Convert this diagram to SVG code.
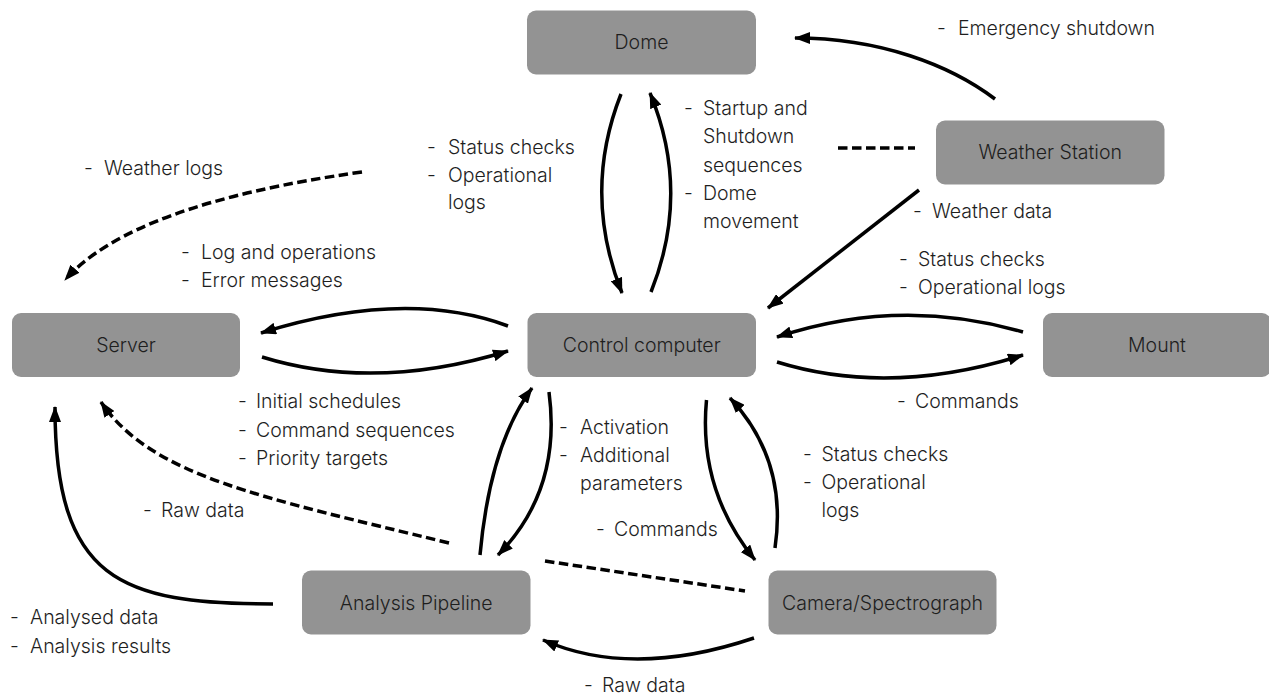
<svg xmlns="http://www.w3.org/2000/svg" width="1269" height="697" viewBox="0 0 1269 697">
<style>
.box{fill:#939393;}
.ntext{font-family:Inter,"Liberation Sans",sans-serif;font-size:19.5px;font-weight:300;fill:#1e1e1e;text-anchor:middle;}
.lbl{font-family:Inter,"Liberation Sans",sans-serif;font-size:19.5px;font-weight:300;fill:#1e1e1e;}
.c{fill:none;stroke:#000;stroke-width:3.5;}
.arr{marker-end:url(#ah);}
.d{stroke-dasharray:9.5 4.5;}
</style>
<defs>
<marker id="ah" markerUnits="userSpaceOnUse" viewBox="0 0 16 12" refX="15" refY="6" markerWidth="16" markerHeight="12" orient="auto">
<path d="M0,0 L16,6 L0,12 z" fill="#000"/>
</marker>
</defs>
<rect width="1269" height="697" fill="#fff"/>

<g id="dome"><rect class="box" x="527" y="10.5" width="229" height="64" rx="9"/><text class="ntext" x="641.5" y="49">Dome</text></g>
<g id="weather-station"><rect class="box" x="936" y="120.5" width="228.5" height="64" rx="9"/><text class="ntext" x="1050.2" y="158.5">Weather Station</text></g>
<g id="server"><rect class="box" x="12" y="313" width="228" height="64" rx="9"/><text class="ntext" x="126" y="352">Server</text></g>
<g id="control-computer"><rect class="box" x="527.5" y="313" width="228.5" height="64" rx="9"/><text class="ntext" x="641.7" y="352">Control computer</text></g>
<g id="mount"><rect class="box" x="1043" y="313" width="228" height="64" rx="9"/><text class="ntext" x="1157" y="352">Mount</text></g>
<g id="analysis-pipeline"><rect class="box" x="302" y="570.5" width="228.5" height="64" rx="9"/><text class="ntext" x="416.2" y="609.5">Analysis Pipeline</text></g>
<g id="camera-spectrograph"><rect class="box" x="768.5" y="570.5" width="228" height="64" rx="9"/><text class="ntext" x="882.5" y="609.5">Camera/Spectrograph</text></g>

<g id="connectors">
<path class="c arr" d="M995,99 C950,65 880,38 795,38"/>
<path class="c arr" d="M651,292 Q691,192 650,93"/>
<path class="c arr" d="M621,94 Q582,193 622,293"/>
<path class="c arr" d="M508,326 Q405,288 261,333"/>
<path class="c arr" d="M262,357 Q375,392 508,351"/>
<path class="c arr" d="M1023,332 Q900,296 777,337"/>
<path class="c arr" d="M777,362 Q890,397 1023,355"/>
<path class="c arr" d="M919,190 L768,308"/>
<path class="c d arr" d="M362,172 Q132,204 65,280"/>
<path class="c d arr" d="M449,543 C260,497 151,476 101,402"/>
<path class="c arr" d="M273,604 C120,604 55,580 55,407"/>
<path class="c arr" d="M480,555 Q490,445 532,388"/>
<path class="c arr" d="M549,392 Q562,490 498,555"/>
<path class="c arr" d="M706.5,400 Q698,490 755,560"/>
<path class="c arr" d="M775,548 Q788,460 730,398"/>
<path class="c d" d="M545,561 L745,591"/>
<path class="c d" d="M838,148 L915,148"/>
<path class="c arr" d="M754,638 Q632,679 543,640"/>
</g>

<g id="labels">
<text class="lbl"><tspan x="937" y="35">-</tspan><tspan x="958" y="35">Emergency shutdown</tspan></text>
<text class="lbl"><tspan x="684" y="115">-</tspan><tspan x="703" y="115">Startup and</tspan><tspan x="703" y="143.3">Shutdown</tspan><tspan x="703" y="171.7">sequences</tspan><tspan x="684" y="200">-</tspan><tspan x="703" y="200">Dome</tspan><tspan x="703" y="228.3">movement</tspan></text>
<text class="lbl"><tspan x="427" y="153.5">-</tspan><tspan x="448" y="153.5">Status checks</tspan><tspan x="427" y="181.5">-</tspan><tspan x="448" y="181.5">Operational</tspan><tspan x="448" y="209">logs</tspan></text>
<text class="lbl"><tspan x="84" y="175">-</tspan><tspan x="104" y="175">Weather logs</tspan></text>
<text class="lbl"><tspan x="181" y="259">-</tspan><tspan x="201" y="259">Log and operations</tspan><tspan x="181" y="287">-</tspan><tspan x="201" y="287">Error messages</tspan></text>
<text class="lbl"><tspan x="913" y="218.3">-</tspan><tspan x="932" y="218.3">Weather data</tspan></text>
<text class="lbl"><tspan x="899" y="265.7">-</tspan><tspan x="918" y="265.7">Status checks</tspan><tspan x="899" y="293.5">-</tspan><tspan x="918" y="293.5">Operational logs</tspan></text>
<text class="lbl"><tspan x="897" y="408">-</tspan><tspan x="915" y="408">Commands</tspan></text>
<text class="lbl"><tspan x="238" y="408.3">-</tspan><tspan x="256" y="408.3">Initial schedules</tspan><tspan x="238" y="436.5">-</tspan><tspan x="256" y="436.5">Command sequences</tspan><tspan x="238" y="464.5">-</tspan><tspan x="256" y="464.5">Priority targets</tspan></text>
<text class="lbl"><tspan x="559" y="434.3">-</tspan><tspan x="580" y="434.3">Activation</tspan><tspan x="559" y="462.3">-</tspan><tspan x="580" y="462.3">Additional</tspan><tspan x="580" y="490">parameters</tspan></text>
<text class="lbl"><tspan x="596" y="536">-</tspan><tspan x="614" y="536">Commands</tspan></text>
<text class="lbl"><tspan x="803" y="461">-</tspan><tspan x="821.5" y="461">Status checks</tspan><tspan x="803" y="489">-</tspan><tspan x="821.5" y="489">Operational</tspan><tspan x="821.5" y="517">logs</tspan></text>
<text class="lbl"><tspan x="143" y="517.3">-</tspan><tspan x="161" y="517.3">Raw data</tspan></text>
<text class="lbl"><tspan x="10" y="624">-</tspan><tspan x="30" y="624">Analysed data</tspan><tspan x="10" y="652.7">-</tspan><tspan x="30" y="652.7">Analysis results</tspan></text>
<text class="lbl"><tspan x="584" y="692">-</tspan><tspan x="602" y="692">Raw data</tspan></text>
</g>
</svg>
